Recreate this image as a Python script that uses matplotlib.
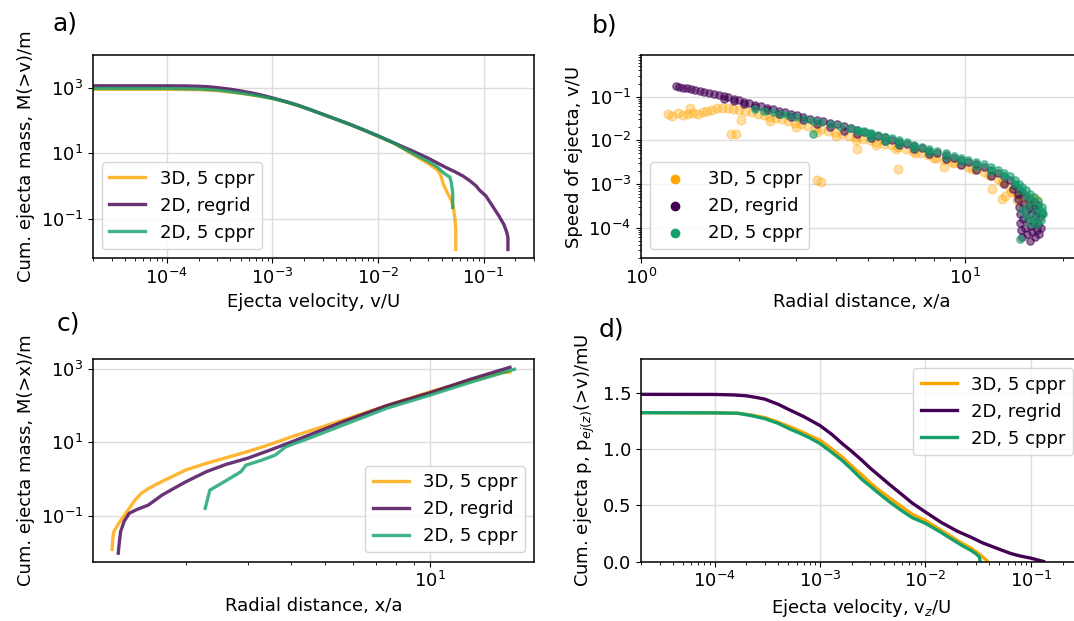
import matplotlib
matplotlib.use('Agg')
from matplotlib import pyplot as plt
from matplotlib.ticker import NullFormatter

# colours
c_3d = '#FFA500'
c_rg = '#440154'
c_2d = '#13A06B'
labels = ['3D, 5 cppr', '2D, regrid', '2D, 5 cppr']

# a) cumulative ejecta mass vs velocity
a_v_3d = [2e-5, 1e-4, 2e-4, 3e-4, 4e-4, 5e-4, 7e-4, 1e-3, 1.3e-3, 1.7e-3, 2.2e-3, 3e-3, 4e-3, 5.5e-3, 7.5e-3, 1e-2, 0.014,
          0.02, 0.0238, 0.03, 0.034, 0.037, 0.0395, 0.0413, 0.045, 0.0496, 0.052, 0.0533, 0.0545, 0.0545]
a_m_3d = [905, 903, 875, 820, 740, 680, 580, 470, 380, 295, 222, 153, 109, 74, 49, 33, 20.5,
          10.5, 7.5, 4.8, 3.6, 3.0, 2.0, 1.2, 0.65, 0.36, 0.2, 0.11, 0.05, 0.0115]
a_v_rg = [2e-5, 1e-4, 1.5e-4, 2e-4, 2.5e-4, 3e-4, 4e-4, 5e-4, 6e-4, 7e-4, 8e-4, 1e-3, 1.3e-3, 1.7e-3, 2.2e-3, 3e-3, 4e-3,
          5.5e-3, 7.5e-3, 1e-2, 0.014, 0.0215, 0.03, 0.0445, 0.055, 0.064, 0.075, 0.085, 0.092, 0.105, 0.124, 0.14, 0.155,
          0.165, 0.17, 0.17]
a_m_rg = [1150, 1145, 1135, 1110, 1070, 1010, 900, 800, 720, 650, 590, 490, 390, 300, 225, 155, 110,
          75, 50, 34, 21, 11.5, 7, 3.6, 2.6, 2.0, 1.4, 1.0, 0.73, 0.5, 0.22, 0.12, 0.068,
          0.04, 0.027, 0.0115]
a_v_2d = [2e-5, 1e-4, 2e-4, 3e-4, 4e-4, 5e-4, 7e-4, 1e-3, 1.3e-3, 1.7e-3, 2.2e-3, 3e-3, 4e-3, 5.5e-3, 7.5e-3, 1e-2, 0.014,
          0.02, 0.025, 0.03, 0.036, 0.0413, 0.045, 0.0478, 0.0496, 0.051, 0.051]
a_m_2d = [950, 948, 915, 850, 760, 690, 585, 472, 382, 297, 223, 154, 110, 75, 50, 33.5, 21,
          11, 7.5, 5.6, 3.9, 2.6, 2.1, 1.9, 1.2, 0.6, 0.22]

# b) speed of ejecta vs radial distance (points read off the plot)
b_x_3d = [1.21, 1.25, 1.30, 1.35, 1.40, 1.42, 1.45, 1.50, 1.55, 1.60, 1.66, 1.72, 1.78, 1.85, 1.92, 2.00, 2.10, 2.20,
          2.30, 2.40, 2.50, 2.60, 2.72, 2.85, 2.98, 3.12, 3.27, 3.43, 3.60, 3.78, 3.97, 4.17, 4.38, 4.60, 4.83, 5.07,
          5.32, 5.60, 5.90, 6.20, 6.55, 6.90, 7.30, 7.70, 8.15, 8.60, 9.10, 9.60, 10.2, 10.8, 11.4, 12.0, 12.6, 13.1,
          13.6, 14.0, 14.4, 14.8, 15.3, 15.8, 16.3, 16.7,
          2.5, 3.0, 3.5, 4.0, 4.6, 5.3, 6.1, 7.0, 8.0, 9.2, 10.5, 11.8, 13.0, 13.8, 14.4, 15.0, 15.8, 16.5,
          1.90, 1.96, 2.04, 3.50, 3.58, 6.20, 4.62, 8.57, 12.1, 13.0, 13.3]
b_y_3d = [.040, .036, .042, .038, .040, .055, .043, .039, .045, .047, .050, .055, .056, .055, .053, .050, .047, .044,
          .041, .038, .035, .032, .030, .027, .025, .023, .021, .0195, .018, .0165, .0152, .0140, .0128, .0118, .0108, .0099,
          .0091, .0083, .0076, .0069, .0062, .0056, .0050, .0045, .0040, .0036, .0032, .0029, .0025, .0022, .0019, .0016, .0013, .0011,
          .00085, .00068, .00058, .00053, .00050, .00047, .00045, .00043,
          .028, .020, .0155, .0125, .0100, .0080, .0063, .0050, .0039, .0030, .0022, .0016, .0011, .00065, .00042, .00036, .00033, .00032,
          .014, .014, .029, .0012, .0011, .0022, .0063, .0024, .00076, .00045, .00053]
b_x_rg = [1.28, 1.31, 1.35, 1.39, 1.43, 1.47, 1.52, 1.57, 1.62, 1.68, 1.74, 1.80, 1.86, 1.93, 2.00, 2.08, 2.16, 2.25,
          2.34, 2.44, 2.55, 2.66, 2.78, 2.90, 3.03, 3.17, 3.32, 3.48, 3.65, 3.83, 4.02, 4.22, 4.43, 4.65, 4.88, 5.12,
          5.38, 5.65, 5.95, 6.25, 6.60, 6.95, 7.35, 7.75, 8.20, 8.70, 9.20, 9.70, 10.2, 10.8, 11.4, 12.0, 12.6, 13.2,
          13.7, 14.2, 14.6, 15.0, 15.4, 15.8, 16.3, 16.8,
          1.80, 1.93, 2.08, 2.25, 2.44, 2.66, 2.90, 3.17, 3.48, 3.83, 4.22, 4.65, 5.12, 5.65, 6.25, 6.95, 7.75, 8.70,
          9.70, 10.8, 12.0, 13.2, 14.0, 14.5,
          14.5, 14.6, 14.7, 14.8, 14.9, 15.0, 15.1, 15.2, 15.3, 15.4, 15.5, 15.6, 15.7, 15.8, 15.9, 16.0, 16.1, 16.2,
          16.3, 16.4, 16.5, 16.6, 16.7, 16.8, 16.9, 17.0, 17.1, 17.2]
b_y_rg = [.172, .168, .160, .155, .149, .143, .136, .129, .122, .115, .109, .102, .096, .090, .083, .077, .071, .066,
          .061, .056, .051, .047, .044, .041, .037, .034, .031, .029, .027, .025, .023, .021, .019, .0172, .0155, .0140,
          .0128, .0116, .0104, .0093, .0083, .0074, .0066, .0058, .0051, .0045, .0040, .0036, .0032, .0028, .0024, .0021, .0018, .0015,
          .0012, .00095, .00078, .00064, .00054, .00046, .00039, .00032,
          .090, .079, .068, .058, .049, .041, .035, .029, .024, .020, .0165, .0138, .0114, .0094, .0077, .0062, .0049, .0038,
          .0027, .0021, .0015, .0010, .00075, .00060,
          .00045, .00030, .00020, .00013, .00009, .00006, .00016, .00035, .00010, .00024, .00007, .00015, .00030, .00005, .00011, .00020, .00008, .00028,
          .00013, .00006, .00018, .00009, .00025, .00012, .00007, .00017, .00010, .00022]
b_x_2d = [2.25, 2.40, 2.55, 2.70, 2.85, 3.00, 3.20, 3.40, 3.60, 3.85, 4.10, 4.40, 4.70, 5.00,
          4.65, 4.88, 5.12, 5.38, 5.65, 5.95, 6.25, 6.60, 6.95, 7.35, 7.75, 8.20, 8.70, 9.20, 9.70, 10.2, 10.8, 11.4,
          12.0, 12.6, 13.2, 13.7, 14.2, 14.6, 15.0, 15.4, 15.8, 16.3, 16.8, 17.2,
          5.12, 5.65, 6.25, 6.95, 7.75, 8.70, 9.70, 10.8, 12.0, 13.2, 14.2, 14.8, 15.4, 16.0, 16.6, 17.2,
          15.0, 15.4, 15.8, 16.2, 16.6, 17.1, 17.4, 15.6, 16.4, 3.40, 14.7]
b_y_2d = [.053, .048, .044, .040, .037, .034, .031, .028, .026, .023, .021, .019, .016, .0145,
          .0175, .0160, .0146, .0134, .0122, .0110, .0099, .0089, .0080, .0071, .0064, .0056, .0050, .0044, .0040, .0036, .0032, .0028,
          .0024, .0021, .0018, .0015, .0012, .00100, .00085, .00072, .00060, .00050, .00040, .00030,
          .0118, .0098, .0081, .0066, .0053, .0042, .0033, .0026, .0020, .0015, .00100, .00072, .00052, .00040, .00031, .00024,
          .00025, .00018, .00013, .00016, .00012, .00015, .00020, .00030, .00022, .014, .000055]

# c) cumulative ejecta mass vs radial distance
c_x_3d = [1.229, 1.235, 1.243, 1.285, 1.33, 1.376, 1.43, 1.49, 1.56, 1.63, 1.8, 2.0, 2.29, 2.6, 3.0, 3.5, 4.03, 5.65, 7.5, 10, 13, 16.0, 16.9]
c_m_3d = [0.0122, 0.025, 0.037, 0.063, 0.1, 0.16, 0.27, 0.41, 0.55, 0.69, 1.1, 1.78, 2.7, 3.8, 5.6, 9, 14.4, 41, 100, 240, 480, 800, 820]
c_x_rg = [1.28, 1.29, 1.30, 1.33, 1.376, 1.45, 1.56, 1.71, 1.9, 2.0, 2.29, 2.6, 3.0, 3.5, 4.03, 5.65, 7.5, 10, 13, 16.9]
c_m_rg = [0.0096, 0.02, 0.037, 0.07, 0.117, 0.15, 0.196, 0.37, 0.65, 0.85, 1.6, 2.5, 3.7, 6.3, 10.5, 37, 100, 226, 520, 1110]
c_x_2d = [2.27, 2.34, 2.6, 2.87, 2.97, 3.3, 3.6, 3.86, 4.5, 5.65, 7.5, 10, 13, 17.4]
c_m_2d = [0.16, 0.5, 0.9, 1.58, 2.4, 3.3, 4.5, 7.6, 13, 30, 85, 195, 430, 980]

# d) cumulative ejecta momentum vs vertical velocity
d_v_3d = [2e-5, 1e-4, 1.65e-4, 2.2e-4, 3.03e-4, 4e-4, 5.16e-4, 6.5e-4, 8e-4, 1e-3, 1.3e-3, 1.62e-3, 2e-3, 2.5e-3, 3e-3,
          3.47e-3, 4.5e-3, 5.9e-3, 7.5e-3, 1e-2, 0.014, 0.0184, 0.0225, 0.0269, 0.031, 0.035, 0.038, 0.039]
d_p_3d = [1.325, 1.323, 1.32, 1.305, 1.28, 1.24, 1.20, 1.16, 1.12, 1.08, 1.00, 0.93, 0.85, 0.77, 0.70,
          0.65, 0.57, 0.49, 0.42, 0.365, 0.28, 0.21, 0.16, 0.12, 0.08, 0.04, 0.01, 0.0]
d_v_rg = [2e-5, 1e-4, 1.5e-4, 2e-4, 2.5e-4, 3e-4, 4e-4, 5e-4, 6e-4, 7e-4, 8e-4, 1e-3, 1.3e-3, 1.62e-3, 2e-3, 2.5e-3, 3e-3,
          3.47e-3, 4.5e-3, 5.9e-3, 7.5e-3, 1e-2, 0.014, 0.02, 0.0269, 0.035, 0.049, 0.065, 0.08, 0.1, 0.115, 0.132]
d_p_rg = [1.488, 1.487, 1.483, 1.475, 1.46, 1.445, 1.40, 1.355, 1.32, 1.29, 1.26, 1.21, 1.13, 1.05, 0.98, 0.90, 0.83,
          0.78, 0.69, 0.60, 0.52, 0.44, 0.35, 0.27, 0.217, 0.165, 0.113, 0.07, 0.048, 0.03, 0.015, 0.0]
d_v_2d = [2e-5, 1e-4, 1.65e-4, 2.2e-4, 3.03e-4, 4e-4, 5.16e-4, 6.5e-4, 8e-4, 1e-3, 1.3e-3, 1.62e-3, 2e-3, 2.5e-3, 3e-3,
          3.47e-3, 4.5e-3, 5.9e-3, 7.5e-3, 1e-2, 0.014, 0.0184, 0.0225, 0.0269, 0.030, 0.0325, 0.033]
d_p_2d = [1.325, 1.323, 1.32, 1.30, 1.27, 1.23, 1.18, 1.14, 1.10, 1.05, 0.97, 0.90, 0.82, 0.73, 0.67,
          0.62, 0.535, 0.455, 0.39, 0.34, 0.26, 0.19, 0.14, 0.10, 0.07, 0.04, 0.0]

plt.rcParams['font.size'] = 13
plt.rcParams['axes.linewidth'] = 1.1

fig = plt.figure(figsize=(10.74, 6.21), dpi=100)
ax_a = fig.add_axes([0.0866, 0.5845, 0.4106, 0.3269])
ax_b = fig.add_axes([0.5968, 0.5845, 0.4106, 0.3269])
ax_c = fig.add_axes([0.0866, 0.0958, 0.4106, 0.3256])
ax_d = fig.add_axes([0.5968, 0.0958, 0.4106, 0.3256])

for ax in [ax_a, ax_b, ax_c, ax_d]:
    ax.grid(True, color='#dddddd', lw=1)
    ax.set_axisbelow(True)

lw = 2.4
ax_a.plot(a_v_3d, a_m_3d, c=c_3d, lw=lw, alpha=0.8, label=labels[0])
ax_a.plot(a_v_rg, a_m_rg, c=c_rg, lw=lw, alpha=0.8, label=labels[1])
ax_a.plot(a_v_2d, a_m_2d, c=c_2d, lw=lw, alpha=0.8, label=labels[2])
ax_a.set_xscale('log')
ax_a.set_yscale('log')
ax_a.set_xlim(2e-5, 0.3)
ax_a.set_ylim(6.3e-3, 1e4)
ax_a.set_xlabel('Ejecta velocity, v/U')
ax_a.set_ylabel('Cum. ejecta mass, M(>v)/m')
ax_a.legend(loc='lower left')

ax_b.scatter(b_x_3d, b_y_3d, s=40, c=c_3d, alpha=0.35, label=labels[0])
ax_b.scatter(b_x_rg, b_y_rg, s=28, c=c_rg, alpha=0.55, label=labels[1])
ax_b.scatter(b_x_2d, b_y_2d, s=28, c=c_2d, alpha=0.6, label=labels[2])
ax_b.set_xscale('log')
ax_b.set_yscale('log')
ax_b.set_xlim(1, 22.9)
ax_b.set_ylim(2e-5, 0.9)
ax_b.xaxis.set_minor_formatter(NullFormatter())
ax_b.set_xlabel('Radial distance, x/a')
ax_b.set_ylabel('Speed of ejecta, v/U')
leg = ax_b.legend(loc='lower left')
for h in leg.legend_handles:
    h.set_alpha(1)
    h.set_sizes([36])

ax_c.plot(c_x_3d, c_m_3d, c=c_3d, lw=lw, alpha=0.8, label=labels[0])
ax_c.plot(c_x_rg, c_m_rg, c=c_rg, lw=lw, alpha=0.8, label=labels[1])
ax_c.plot(c_x_2d, c_m_2d, c=c_2d, lw=lw, alpha=0.8, label=labels[2])
ax_c.set_xscale('log')
ax_c.set_yscale('log')
ax_c.set_xlim(1.084, 19.8)
ax_c.set_ylim(5.7e-3, 1830)
ax_c.xaxis.set_minor_formatter(NullFormatter())
ax_c.set_xlabel('Radial distance, x/a')
ax_c.set_ylabel('Cum. ejecta mass, M(>x)/m')
ax_c.legend(loc='lower right')

ax_d.plot(d_v_3d, d_p_3d, c=c_3d, lw=lw, label=labels[0])
ax_d.plot(d_v_rg, d_p_rg, c=c_rg, lw=lw, label=labels[1])
ax_d.plot(d_v_2d, d_p_2d, c=c_2d, lw=lw, label=labels[2])
ax_d.set_xscale('log')
ax_d.set_xlim(2e-5, 0.305)
ax_d.set_ylim(0, 1.8)
ax_d.set_yticks([0.0, 0.5, 1.0, 1.5])
ax_d.set_xlabel('Ejecta velocity, v$_z$/U')
ax_d.set_ylabel('Cum. ejecta p, p$_{ej(z)}$(>v)/mU')
ax_d.legend(loc='upper right')

fig.text(52 / 1074, 1 - 30 / 621, 'a)', fontsize=18, va='baseline')
fig.text(592 / 1074, 1 - 33 / 621, 'b)', fontsize=18, va='baseline')
fig.text(57 / 1074, 1 - 331 / 621, 'c)', fontsize=18, va='baseline')
fig.text(599 / 1074, 1 - 337 / 621, 'd)', fontsize=18, va='baseline')

fig.savefig('out.png', dpi=100)
